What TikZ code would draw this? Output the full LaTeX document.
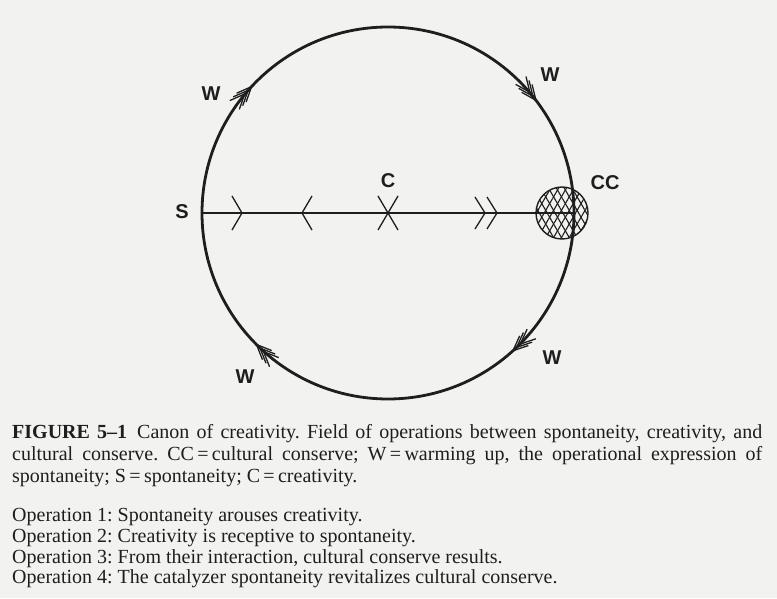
\documentclass[tikz,border=0pt]{standalone}
\usepackage{fontspec}
\setmainfont{Liberation Serif}
\newfontfamily\lblfont{Liberation Sans}
\usetikzlibrary{patterns.meta,calc}
\definecolor{paper}{RGB}{242,242,240}
\definecolor{ink}{RGB}{30,30,30}
\frenchspacing
\tikzset{
  lbl/.style={font=\lblfont\bfseries\fontsize{20}{20}\selectfont, text=ink, inner sep=0},
  capline/.style={anchor=base west, inner sep=0, font=\fontsize{20}{22}\selectfont, text=ink},
  tick/.style={draw=ink, line width=1.3pt},
  barb/.style={draw=ink, line width=1.3pt},
}
\begin{document}
\begin{tikzpicture}[x=1pt,y=1pt]
\fill[paper] (0,0) rectangle (777,598);
\useasboundingbox (0,0) rectangle (777,598);
\coordinate (O) at (388,385);
\node[circle, draw=ink, line width=2.8pt, minimum size=372pt, inner sep=0, outer sep=0] (big) at (O) {};
\draw[ink, line width=1.9pt] (big.west) -- (big.east);
% cultural conserve (hatched)
\node[circle, minimum size=52pt, inner sep=0, outer sep=0] (cc) at (562,385) {};
\fill[pattern={Lines[angle=60,distance=6.8pt,line width=1.1pt]}, pattern color=ink] (cc.center) circle (26);
\fill[pattern={Lines[angle=120,distance=6.8pt,line width=1.1pt]}, pattern color=ink] (cc.center) circle (26);
\draw[ink, line width=1.4pt] (cc.center) circle (26);
% marks on the line
\draw[tick] (232,402) -- (242,385) -- (232,368);
\draw[tick] (312,402) -- (302,385) -- (312,368);
\draw[tick] (378,402) -- (398,368);
\draw[tick] (378,368) -- (398,402);
\draw[tick] (475,401) -- (485,385) -- (475,369);
\draw[tick] (487,401) -- (497,385) -- (487,369);
% warming-up arrowheads
\foreach \ang/\dir in {137.2/47.2, 37.3/-52.7, -47.8/-137.8, -135/135} {
  \begin{scope}[shift={($(O)+(\ang:186)$)}, rotate=\dir]
    \foreach \i in {0,1,2}
      \draw[barb] ({-5*\i-15},6.5) -- ({-5*\i},0) -- ({-5*\i-15},-6.5);
  \end{scope}
}
% labels
\node[lbl] (S) at (182,386) {S};
\node[lbl] (C) at (388,417) {C};
\node[lbl] (CCl) at (605,415) {CC};
\node[lbl] (W1) at (211,504) {W};
\node[lbl] (W2) at (550,523) {W};
\node[lbl] (W3) at (245,221) {W};
\node[lbl] (W4) at (552,240) {W};
% caption
\node[capline] (cap1) at (12,160) {\makebox[750pt][s]{\textbf{FIGURE 5–1}\enspace Canon of creativity. Field of operations between spontaneity, creativity, and}};
\node[capline] (cap2) at (12,138) {\makebox[750pt][s]{cultural conserve. CC\,=\,cultural conserve; W\,=\,warming up, the operational expression of}};
\node[capline] (cap3) at (12,116) {spontaneity; S\,=\,spontaneity; C\,=\,creativity.};
\node[capline] (op1) at (12,77) {Operation 1: Spontaneity arouses creativity.};
\node[capline] (op2) at (12,56) {Operation 2: Creativity is receptive to spontaneity.};
\node[capline] (op3) at (12,35) {Operation 3: From their interaction, cultural conserve results.};
\node[capline] (op4) at (12,15) {Operation 4: The catalyzer spontaneity revitalizes cultural conserve.};
\end{tikzpicture}
\end{document}
